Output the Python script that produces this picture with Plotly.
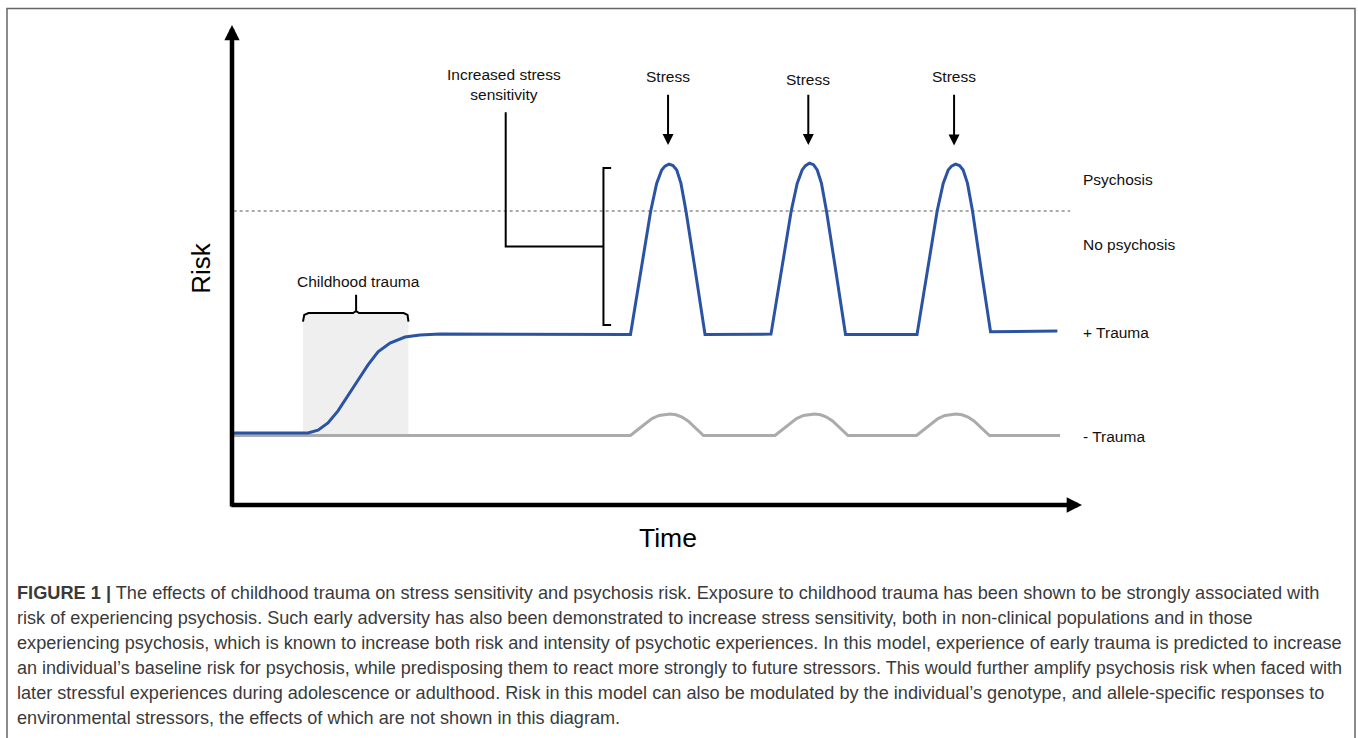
import plotly.graph_objects as go

# ---------------- data (time t: 0..100, risk r: 0..100) ----------------
trauma_t = [0.0, 8.94, 10.12, 11.29, 12.47, 13.65, 14.82, 16.0, 17.18, 18.59, 20.35, 22.12, 24.47,
            46.88, 48.0, 49.26, 49.96, 50.55, 50.94, 51.41, 51.88, 52.32, 52.82, 53.41, 54.53, 55.65,
            63.41, 64.53, 65.79, 66.49, 67.08, 67.47, 67.94, 68.41, 68.85, 69.35, 69.94, 71.06, 72.18,
            80.59, 81.71, 82.96, 83.67, 84.26, 84.65, 85.12, 85.59, 86.02, 86.53, 87.12, 88.18, 89.24,
            97.1]
trauma_r = [15.0, 15.0, 15.6, 17.1, 19.6, 22.7, 26.0, 29.2, 31.9, 33.75, 35.0, 35.4, 35.6,
            35.5, 47.3, 61.25, 67.0, 69.8, 70.6, 71.0, 70.7, 69.8, 67.0, 61.25, 48.5, 35.5,
            35.6, 47.3, 61.25, 67.0, 69.8, 70.7, 71.2, 70.9, 69.8, 67.0, 61.25, 48.5, 35.5,
            35.5, 47.3, 61.25, 67.0, 69.8, 70.6, 71.0, 70.7, 69.8, 67.0, 61.25, 48.5, 36.1,
            36.25]

no_trauma_t = [0.0,
               46.88, 47.76, 48.59, 49.41, 50.24, 50.94, 51.53, 52.24, 52.94, 53.65, 54.35, 54.94, 55.47,
               63.88, 64.76, 65.59, 66.41, 67.24, 67.94, 68.53, 69.24, 69.94, 70.65, 71.35, 71.94, 72.47,
               80.53, 81.41, 82.24, 83.06, 83.88, 84.59, 85.18, 85.88, 86.59, 87.29, 88.0, 88.59, 89.12,
               97.41]
no_trauma_r = [14.5,
               14.48, 15.73, 16.98, 18.02, 18.65, 18.9, 18.96, 18.79, 18.33, 17.5, 16.35, 15.3, 14.48,
               14.48, 15.73, 16.98, 18.02, 18.65, 18.9, 18.96, 18.79, 18.33, 17.5, 16.35, 15.3, 14.48,
               14.48, 15.73, 16.98, 18.02, 18.65, 18.9, 18.96, 18.79, 18.33, 17.5, 16.35, 15.3, 14.48,
               14.5]

psychosis_threshold = 61.25
threshold_span = [0.2, 98.6]

trauma_window = [8.35, 20.76]          # childhood trauma period (time)
trauma_window_risk = [14.8, 39.8]

trauma_brace_t = [8.35, 8.5, 9.0, 14.25, 14.6, 14.6, 14.6, 14.95, 20.2, 20.65, 20.76]
trauma_brace_r = [38.2, 39.6, 40.0, 40.0, 40.4, 43.8, 40.4, 40.0, 40.0, 39.6, 38.2]

sens_bracket_t = [44.6, 43.7, 43.7, 44.6]
sens_bracket_r = [70.2, 70.2, 37.5, 37.5]
sens_leader_t = [32.2, 32.2, 43.7]
sens_leader_r = [81.8, 53.85, 53.85]

stress_t = [51.3, 67.8, 84.95]
stress_label_r = [89.2, 88.75, 89.2]
stress_arrow_tip = [75.0, 75.0, 74.9]
stress_arrow_tail = [85.8, 85.8, 85.8]

right_labels = ["Psychosis", "No psychosis", "+ Trauma", "- Trauma"]
right_labels_r = [67.9, 54.2, 36.0, 14.2]
right_labels_t = 99.9

caption_lines = [
    "<b>FIGURE 1 |</b> The effects of childhood trauma on stress sensitivity and psychosis risk. Exposure to childhood trauma has been shown to be strongly associated with",
    "risk of experiencing psychosis. Such early adversity has also been demonstrated to increase stress sensitivity, both in non-clinical populations and in those",
    "experiencing psychosis, which is known to increase both risk and intensity of psychotic experiences. In this model, experience of early trauma is predicted to increase",
    "an individual\u2019s baseline risk for psychosis, while predisposing them to react more strongly to future stressors. This would further amplify psychosis risk when faced with",
    "later stressful experiences during adolescence or adulthood. Risk in this model can also be modulated by the individual\u2019s genotype, and allele-specific responses to",
    "environmental stressors, the effects of which are not shown in this diagram.",
]

# ---------------- figure ----------------
W, H = 1358, 738
X0PX, Y0PX, SX, SY = 232.0, 505.0, 8.5, 4.8   # layout scale of the drawing
FONT = "Liberation Sans, Arial, sans-serif"
BLUE = "#2b53a3"
GREY = "#ababab"
LBL = 15.5
CAP_SIZES = [18.2, 18.08, 18.12, 18.0, 18.12, 18.1]
CAP_Y = [593, 618, 643, 668, 693, 718]

fig = go.Figure()

# dashed psychosis threshold
fig.add_trace(go.Scatter(x=threshold_span, y=[psychosis_threshold] * 2, mode="lines",
                         line=dict(color="#555555", width=1, dash="3px,3px"), hoverinfo="skip"))
# - trauma
fig.add_trace(go.Scatter(x=no_trauma_t, y=no_trauma_r, mode="lines",
                         line=dict(color=GREY, width=3), hoverinfo="skip"))
# + trauma
fig.add_trace(go.Scatter(x=trauma_t, y=trauma_r, mode="lines",
                         line=dict(color=BLUE, width=3), hoverinfo="skip"))
# brackets
fig.add_trace(go.Scatter(x=trauma_brace_t, y=trauma_brace_r, mode="lines",
                         line=dict(color="black", width=2), hoverinfo="skip"))
fig.add_trace(go.Scatter(x=sens_bracket_t, y=sens_bracket_r, mode="lines",
                         line=dict(color="black", width=2), hoverinfo="skip"))
fig.add_trace(go.Scatter(x=sens_leader_t, y=sens_leader_r, mode="lines",
                         line=dict(color="black", width=2), hoverinfo="skip"))

shapes = [
    dict(type="rect", xref="x", yref="y", x0=trauma_window[0], x1=trauma_window[1],
         y0=trauma_window_risk[0], y1=trauma_window_risk[1], fillcolor="#efefef",
         line=dict(width=0), layer="below"),
    dict(type="rect", xref="paper", yref="paper", x0=7 / W, x1=1355 / W, y0=-0.05, y1=1 - 8.5 / H,
         line=dict(color="#666666", width=1.5), fillcolor="rgba(0,0,0,0)", layer="above"),
]

ann = []
# axes as arrows
ann.append(dict(x=0, y=100, ax=0, ay=-0.6, xref="x", yref="y", axref="x", ayref="y", text="",
                showarrow=True, arrowhead=2, arrowwidth=4.5, arrowsize=0.68, arrowcolor="black"))
ann.append(dict(x=100, y=0, ax=-0.25, ay=0, xref="x", yref="y", axref="x", ayref="y", text="",
                showarrow=True, arrowhead=2, arrowwidth=4.5, arrowsize=0.68, arrowcolor="black"))
ann.append(dict(x=-3.65, y=49.4, xref="x", yref="y", text="Risk", showarrow=False, textangle=-90,
                font=dict(family=FONT, size=26, color="black")))
ann.append(dict(x=51.3, y=-6.9, xref="x", yref="y", text="Time", showarrow=False,
                font=dict(family=FONT, size=26.5, color="black")))
ann.append(dict(x=14.9, y=46.5, xref="x", yref="y", text="Childhood trauma", showarrow=False,
                font=dict(family=FONT, size=LBL, color="#111111")))
ann.append(dict(x=32.0, y=87.6, xref="x", yref="y", text="Increased stress<br>sensitivity",
                showarrow=False, font=dict(family=FONT, size=LBL, color="#111111")))
for t, lr, tip, tail in zip(stress_t, stress_label_r, stress_arrow_tip, stress_arrow_tail):
    ann.append(dict(x=t, y=lr, xref="x", yref="y", text="Stress", showarrow=False,
                    font=dict(family=FONT, size=LBL, color="#111111")))
    ann.append(dict(x=t, y=tip, ax=t, ay=tail, xref="x", yref="y", axref="x", ayref="y", text="",
                    showarrow=True, arrowhead=2, arrowwidth=2, arrowsize=1.1, arrowcolor="black"))
for lab, r in zip(right_labels, right_labels_r):
    ann.append(dict(x=right_labels_t, y=r, xref="x", yref="y", text=lab, showarrow=False,
                    xanchor="left", font=dict(family=FONT, size=LBL, color="#111111")))

for line, py, fs in zip(caption_lines, CAP_Y, CAP_SIZES):
    ann.append(dict(x=15 / W, y=1 - py / H, xref="paper", yref="paper", text=line, showarrow=False,
                    xanchor="left", yanchor="middle", font=dict(family=FONT, size=fs, color="#3a3a3a")))

fig.update_layout(
    width=W, height=H, margin=dict(l=0, r=0, t=0, b=0),
    paper_bgcolor="white", plot_bgcolor="white", showlegend=False,
    xaxis=dict(range=[-X0PX / SX, (W - X0PX) / SX], visible=False, domain=[0, 1], fixedrange=True),
    yaxis=dict(range=[(Y0PX - H) / SY, Y0PX / SY], visible=False, domain=[0, 1], fixedrange=True),
    shapes=shapes, annotations=ann, hovermode=False,
)

fig.write_html("out.html", config={"displayModeBar": False},
               post_script="document.body.style.margin='0';document.body.style.overflow='hidden';")
